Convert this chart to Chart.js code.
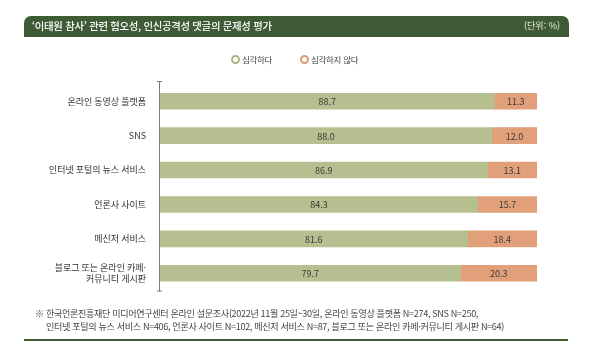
<!DOCTYPE html>
<html lang="ko">
<head>
<meta charset="utf-8">
<script src="https://cdn.jsdelivr.net/npm/chart.js@4"></script>
<style>
  html, body { margin: 0; padding: 0; background: #fff; }
  body { width: 600px; height: 353px; position: relative; overflow: hidden; font-family: "Noto Sans CJK KR", "Noto Sans", sans-serif; }
  #wrap { position: absolute; left: 0; top: 0; width: 600px; height: 353px; }
  .hdr { position: absolute; left: 24px; top: 16px; width: 545px; height: 21px; background: #3e5b35; border-radius: 7px 7px 0 0; color: #fff; }
  .hdr .t { position: absolute; left: 8px; top: 0; line-height: 20px; font-size: 10.4px; font-weight: 500; letter-spacing: -0.3px; }
  .hdr .u { position: absolute; right: 9px; top: 0; line-height: 20px; font-size: 9px; color: #e6ebe0; }
  .leg { position: absolute; top: 52px; font-size: 8.5px; color: #444; line-height: 14px; letter-spacing: -0.3px; }
  .leg i { display: inline-block; width: 5px; height: 5px; border-radius: 50%; border: 2px solid; vertical-align: -1px; margin-right: 2px; }
  .foot { position: absolute; font-size: 9.1px; color: #444; letter-spacing: -0.35px; white-space: nowrap; line-height: 12px; }
  .bline { position: absolute; left: 24px; top: 339px; width: 544px; height: 2px; background: #3e5b35; }
</style>
</head>
<body>
<div id="wrap"><canvas id="c" width="600" height="353"></canvas></div>
<div class="hdr"><span class="t">‘이태원 참사’ 관련 혐오성, 인신공격성 댓글의 문제성 평가</span><span class="u">(단위: %)</span></div>
<div class="leg" style="left:231px"><i style="border-color:#a9b77f"></i>심각하다</div>
<div class="leg" style="left:300px"><i style="border-color:#df9a6f"></i>심각하지 않다</div>
<div class="foot" style="left:35px; top:307px">※ 한국언론진흥재단 미디어연구센터 온라인 설문조사(2022년 11월 25일~30일, 온라인 동영상 플랫폼 N=274, SNS N=250,</div>
<div class="foot" style="left:46px; top:320px">인터넷 포털의 뉴스 서비스 N=406, 언론사 사이트 N=102, 메신저 서비스 N=87, 블로그 또는 온라인 카페·커뮤니티 게시판 N=64)</div>
<div class="bline"></div>
<script>
const categories = [
  "온라인 동영상 플랫폼",
  "SNS",
  "인터넷 포털의 뉴스 서비스",
  "언론사 사이트",
  "메신저 서비스",
  ["블로그 또는 온라인 카페·", "커뮤니티 게시판"]
];
const seriesNames = ["심각하다", "심각하지 않다"];
const serious = [88.7, 88.0, 86.9, 84.3, 81.6, 79.7];
const notSerious = [11.3, 12.0, 13.1, 15.7, 18.4, 20.3];
const xMin = 0, xMax = 100;

const valueLabels = {
  id: 'valueLabels',
  afterDatasetsDraw(chart) {
    const ctx = chart.ctx;
    ctx.save();
    ctx.font = '9px "Noto Sans CJK KR", "Noto Sans", sans-serif';
    ctx.fillStyle = '#3a3a3a';
    ctx.textAlign = 'center';
    ctx.textBaseline = 'middle';
    chart.data.datasets.forEach((ds, i) => {
      chart.getDatasetMeta(i).data.forEach((el, j) => {
        const p = el.getProps(['x', 'y', 'base'], true);
        ctx.fillText(ds.data[j].toFixed(1), (p.x + p.base) / 2, p.y + 0.5);
      });
    });
    ctx.restore();
  }
};

const axisLine = {
  id: 'axisLine',
  afterDatasetsDraw(chart) {
    const ctx = chart.ctx;
    const x = Math.round(chart.chartArea.left) - 0.5;
    const top = chart.chartArea.top - 3, bottom = chart.chartArea.bottom + 1;
    ctx.save();
    ctx.strokeStyle = '#7a7a7a';
    ctx.lineWidth = 1;
    ctx.beginPath();
    ctx.moveTo(x, top); ctx.lineTo(x, bottom);
    ctx.moveTo(x - 2.5, top + 0.5); ctx.lineTo(x + 2.5, top + 0.5);
    ctx.moveTo(x - 2.5, bottom - 0.5); ctx.lineTo(x + 2.5, bottom - 0.5);
    ctx.stroke();
    ctx.restore();
  }
};

new Chart(document.getElementById('c'), {
  type: 'bar',
  data: {
    labels: categories,
    datasets: [
      { label: seriesNames[0], data: serious, backgroundColor: '#b5bf8f' },
      { label: seriesNames[1], data: notSerious, backgroundColor: '#e1a07a' }
    ]
  },
  options: {
    indexAxis: 'y',
    responsive: false,
    animation: false,
    devicePixelRatio: 1,
    layout: { padding: { left: 0, right: 63, top: 84, bottom: 62.5 } },
    datasets: { bar: { barThickness: 16, borderWidth: 0 } },
    plugins: { legend: { display: false }, tooltip: { enabled: false } },
    scales: {
      x: { stacked: true, min: xMin, max: xMax, display: false },
      y: {
        stacked: true,
        grid: { display: false, drawTicks: false },
        border: { display: false },
        afterFit(scale) { scale.width = 160; },
        ticks: {
          padding: 14,
          color: '#333',
          font: { family: '"Noto Sans CJK KR", "Noto Sans", sans-serif', size: 9 },
          crossAlign: 'near'
        }
      }
    }
  },
  plugins: [valueLabels, axisLine]
});
</script>
</body>
</html>
